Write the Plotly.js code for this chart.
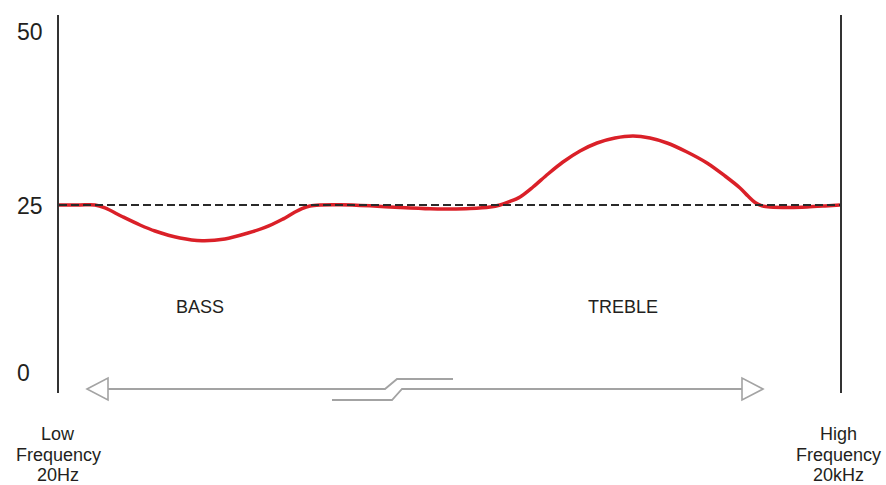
<!DOCTYPE html>
<html>
<head>
<meta charset="utf-8">
<script src="https://cdn.plot.ly/plotly-3.0.1.min.js"></script>
<style>html,body{margin:0;padding:0;background:#fff;}#chart{width:886px;height:485px;}</style>
</head>
<body>
<div id="chart"></div>
<script>
// ---- data ----
const positions = [0, 2.69, 4.61, 5.89, 8.07, 10.37, 12.29, 15.49, 18.31, 21.25, 24.20, 26.38, 28.55, 30.22, 31.11, 32.14, 33.42, 35.98, 39.82, 43.66, 47.50, 50.06, 52.62, 55.19, 56.47, 57.75, 59.03, 60.69, 62.61, 64.53, 66.71, 68.89, 71.19, 73.50, 75.67, 77.85, 80.41, 82.97, 85.28, 87.20, 88.22, 89.12, 90.01, 91.04, 93.60, 95.77, 98.08, 100];
const response  = [25, 25, 25, 24.57, 23.34, 22.11, 21.24, 20.23, 19.84, 20.09, 20.95, 21.75, 22.90, 23.99, 24.49, 24.86, 25, 25.03, 24.88, 24.64, 24.45, 24.42, 24.49, 24.71, 25, 25.51, 26.16, 27.60, 29.48, 31.21, 32.80, 33.96, 34.68, 34.97, 34.68, 33.96, 32.66, 31.07, 29.19, 27.46, 26.30, 25.36, 24.88, 24.71, 24.64, 24.71, 24.86, 25];
const flatX = [0, 100];
const flatY = [25, 25];
const yTickVals = [0, 25, 50];
const yTickText = ['0', '25', '50'];
const bandLabels = ['BASS', 'TREBLE'];
const bandCenters = [18.1, 72.2];
const lowLabel = ['Low', 'Frequency', '20Hz'];
const highLabel = ['High', 'Frequency', '20kHz'];

// ---- layout helpers ----
const FONT = 'Liberation Sans, Arial, sans-serif';
const L = 59, R = 46, T = 15, B = 92, W = 886, H = 485;
const PW = W - L - R, PH = H - T - B;
const px = x => (x - L) / PW;
const py = y => (H - B - y) / PH;
const P = (x, y) => px(x) + ' ' + py(y);

const traces = [
  {x: positions, y: response, type: 'scatter', mode: 'lines',
   line: {color: '#da2028', width: 3.5, shape: 'spline', smoothing: 0.9},
   hoverinfo: 'skip', showlegend: false},
  {x: flatX, y: flatY, type: 'scatter', mode: 'lines',
   line: {color: '#2a2a2a', width: 2, dash: '8px,4px'},
   hoverinfo: 'skip', showlegend: false}
];

const annotations = [];
yTickVals.forEach((v, i) => {
  annotations.push({x: px(15), xref: 'paper', y: v, yref: 'y', text: yTickText[i],
    xanchor: 'left', yanchor: 'middle', showarrow: false, yshift: i === 0 ? 5 : (i === 1 ? -1 : 0),
    font: {family: FONT, size: 23, color: '#231f20'}});
});
bandLabels.forEach((t, i) => {
  annotations.push({x: bandCenters[i], xref: 'x', y: py(307), yref: 'paper', text: t,
    xanchor: 'center', yanchor: 'middle', showarrow: false,
    font: {family: FONT, size: 18, color: '#231f20'}});
});
const lineYs = [434, 454.5, 475];
lowLabel.forEach((t, i) => {
  annotations.push({x: px(58), xref: 'paper', y: py(lineYs[i]), yref: 'paper', text: t,
    xanchor: 'center', yanchor: 'middle', showarrow: false,
    font: {family: FONT, size: 18, color: '#231f20'}});
});
highLabel.forEach((t, i) => {
  annotations.push({x: px(838), xref: 'paper', y: py(lineYs[i]), yref: 'paper', text: t,
    xanchor: 'center', yanchor: 'middle', showarrow: false,
    font: {family: FONT, size: 18, color: '#231f20'}});
});

const grey = '#a3a3a3';
const shapes = [
  {type: 'path', xref: 'paper', yref: 'paper', path: 'M ' + P(108,389) + ' L ' + P(385,389) + ' L ' + P(397,379) + ' L ' + P(453,379),
   line: {color: grey, width: 1.8}},
  {type: 'path', xref: 'paper', yref: 'paper', path: 'M ' + P(332,400) + ' L ' + P(392,400) + ' L ' + P(402,389) + ' L ' + P(742,389),
   line: {color: grey, width: 1.8}},
  {type: 'path', xref: 'paper', yref: 'paper', path: 'M ' + P(87,389) + ' L ' + P(108,378) + ' L ' + P(108,400) + ' Z',
   line: {color: grey, width: 1.6}, fillcolor: '#ffffff'},
  {type: 'path', xref: 'paper', yref: 'paper', path: 'M ' + P(763,389) + ' L ' + P(742,378) + ' L ' + P(742,400) + ' Z',
   line: {color: grey, width: 1.6}, fillcolor: '#ffffff'}
];

const layout = {
  width: W, height: H,
  margin: {l: L, r: R, t: T, b: B, pad: 0},
  paper_bgcolor: '#ffffff', plot_bgcolor: '#ffffff',
  showlegend: false,
  xaxis: {range: [0, 100], showgrid: false, zeroline: false, showline: false,
          showticklabels: false, ticks: ''},
  yaxis: {range: [-2.168, 52.457], showgrid: false, zeroline: false, showline: true,
          mirror: true, linecolor: '#333333', linewidth: 2,
          tickvals: yTickVals, ticktext: yTickText, showticklabels: false, ticks: ''},
  annotations: annotations,
  shapes: shapes,
  font: {family: FONT}
};

Plotly.newPlot('chart', traces, layout, {displayModeBar: false, staticPlot: true});
</script>
</body>
</html>
